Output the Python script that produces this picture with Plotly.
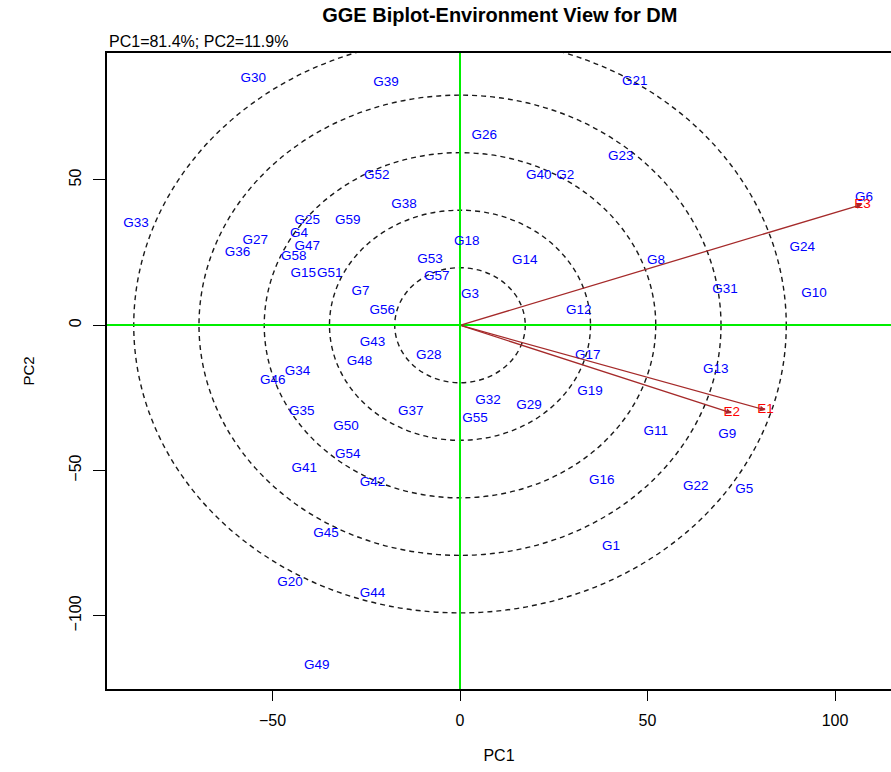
import plotly.graph_objects as go

# ---- data ----
geno = ["G30","G39","G21","G26","G23","G40","G2","G52","G6","G33","G38","G25","G59","G4",
        "G27","G47","G36","G18","G24","G58","G15","G51","G53","G57","G7","G3","G56","G14",
        "G8","G31","G10","G12","G43","G48","G28","G34","G46","G35","G37","G17","G13","G19",
        "G32","G29","G55","G50","G54","G41","G42","G45","G20","G44","G49","G11","G9","G16",
        "G22","G5","G1"]
geno_pc1 = [-55.1,-19.7,46.6,6.5,42.9,21.0,28.1,-22.2,107.7,-86.4,-14.9,-40.7,-29.9,-42.9,
            -54.6,-40.7,-59.3,1.8,91.3,-44.3,-41.8,-34.7,-8.0,-6.2,-26.5,2.7,-20.7,17.3,
            52.3,70.7,94.4,31.7,-23.3,-26.8,-8.3,-43.3,-49.9,-42.2,-13.1,34.1,68.2,34.7,
            7.5,18.4,4.0,-30.4,-29.9,-41.5,-23.3,-35.7,-45.3,-23.3,-38.2,52.2,71.3,37.8,
            62.9,75.8,40.3]
geno_pc2 = [85.0,83.5,83.8,65.2,58.2,51.4,51.4,51.4,44.0,35.1,41.4,36.0,36.0,31.6,
            29.1,27.0,25.1,28.7,26.8,23.6,17.9,17.9,22.7,16.7,11.5,10.7,5.0,22.4,
            22.1,12.1,11.0,5.0,-6.0,-12.6,-10.6,-16.1,-19.1,-29.9,-29.9,-10.6,-15.4,-22.9,
            -26.0,-27.7,-32.0,-34.9,-44.7,-49.5,-54.1,-71.6,-88.6,-92.3,-117.3,-36.7,-37.7,-53.6,
            -55.4,-56.5,-76.2]

env = ["E1", "E2", "E3"]
env_pc1 = [81.5, 72.5, 107.3]
env_pc2 = [-29.2, -30.2, 41.6]

# concentric rings (semi-axes in PC1 / PC2 units)
ring_rx = [17.4, 34.8, 52.2, 69.6, 87.0]
ring_ry = [19.8, 39.6, 59.4, 79.2, 99.0]

x_ticks = [-50, 0, 50, 100]
y_ticks = [-100, -50, 0, 50]

title_text = "GGE Biplot-Environment View for DM"
subtitle_text = "PC1=81.4%; PC2=11.9%"

FONT = "Liberation Sans, Arial, Helvetica, sans-serif"

fig = go.Figure()

# rings
shapes = []
for rx, ry in zip(ring_rx, ring_ry):
    shapes.append(dict(type="circle", xref="x", yref="y", x0=-rx, x1=rx, y0=-ry, y1=ry,
                       line=dict(color="#1a1a1a", width=1.4, dash="5px,4px"), layer="below"))

fig.add_trace(go.Scatter(x=geno_pc1, y=geno_pc2, mode="text", text=geno,
                         textposition="middle center",
                         textfont=dict(family=FONT, size=13.5, color="#0000FF"),
                         hoverinfo="skip", showlegend=False, cliponaxis=True))
fig.add_trace(go.Scatter(x=env_pc1, y=env_pc2, mode="text", text=env,
                         textposition="middle center",
                         textfont=dict(family=FONT, size=13.5, color="#FF0000"),
                         hoverinfo="skip", showlegend=False, cliponaxis=True))

annotations = []
for ex, ey in zip(env_pc1, env_pc2):
    annotations.append(dict(x=ex, y=ey, ax=0, ay=0, xref="x", yref="y", axref="x", ayref="y",
                            showarrow=True, arrowhead=2, arrowsize=0.9, arrowwidth=1.3,
                            arrowcolor="#A52A2A", text=""))
annotations.append(dict(x=0, y=1.0173, xref="paper", yref="paper", xanchor="left",
                        yanchor="middle", showarrow=False, text=subtitle_text,
                        font=dict(family=FONT, size=16, color="#000000")))

fig.update_layout(
    width=891, height=772,
    margin=dict(l=107, r=0, t=53, b=83),
    paper_bgcolor="white", plot_bgcolor="white",
    shapes=shapes, annotations=annotations,
    title=dict(text="<b>" + title_text + "</b>", x=0.561, xanchor="center",
               y=1 - 15 / 772, yref="container", yanchor="middle",
               font=dict(family=FONT, size=20, color="#000000")),
    xaxis=dict(range=[-94.13, 114.93], tickvals=x_ticks, ticks="outside", ticklen=10,
               tickcolor="#000", tickwidth=1, showline=True, mirror=True, linecolor="#000",
               linewidth=1.5, showgrid=False, zeroline=True, zerolinecolor="#00EE00",
               zerolinewidth=1.6, tickfont=dict(family=FONT, size=16, color="#000"),
               ticklabelstandoff=6,
               title=dict(text="PC1", font=dict(family=FONT, size=16, color="#000"), standoff=22)),
    yaxis=dict(range=[-125.2, 93.7], tickvals=y_ticks, ticks="outside", ticklen=12,
               tickcolor="#000", tickwidth=1, showline=True, mirror=False, linecolor="#000",
               linewidth=1.5, showgrid=False, zeroline=True, zerolinecolor="#00EE00",
               zerolinewidth=1.6, tickangle=-90, tickfont=dict(family=FONT, size=16, color="#000"),
               ticklabelstandoff=6,
               title=dict(text="PC2", font=dict(family=FONT, size=15, color="#000"), standoff=29)),
)

fig.write_html("out.html")
